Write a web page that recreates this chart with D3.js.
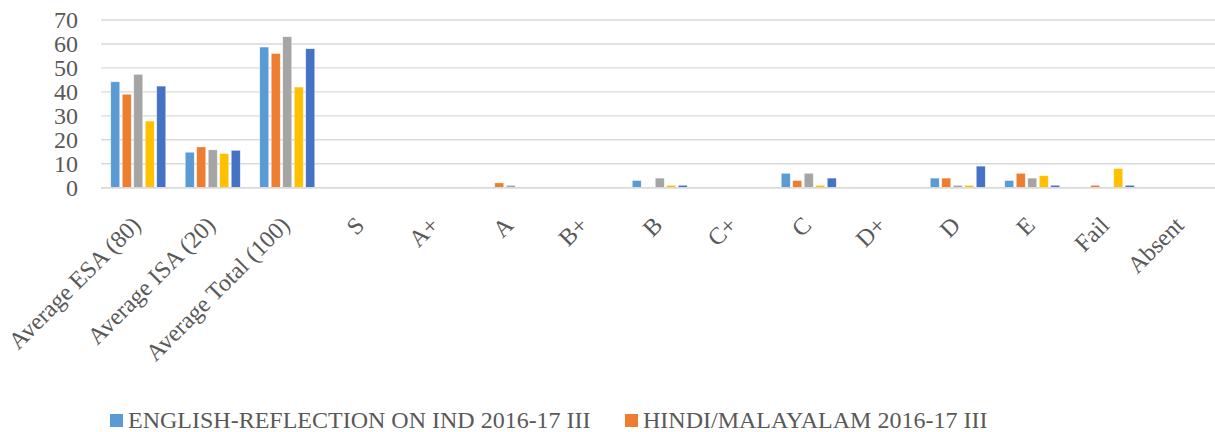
<!DOCTYPE html>
<html>
<head>
<meta charset="utf-8">
<script src="https://cdn.jsdelivr.net/npm/d3@7"></script>
<style>
  html, body { margin: 0; padding: 0; background: #ffffff; }
  svg { display: block; }
  text { font-family: "Liberation Serif", "Times New Roman", serif; }
</style>
</head>
<body>
<div id="chart"></div>
<script>
// ---- data ----
const categories = ["Average ESA (80)", "Average ISA (20)", "Average Total (100)", "S", "A+", "A", "B+", "B", "C+", "C", "D+", "D", "E", "Fail", "Absent"];
// only the first two legend entries are visible in the reference
const legendNames = ["ENGLISH-REFLECTION ON IND 2016-17 III", "HINDI/MALAYALAM 2016-17 III"];
const series1 = [44.2, 14.8, 58.7, 0, 0, 0, 0, 3, 0, 6, 0, 4, 3, 0, 0];
const series2 = [39, 17, 56, 0, 0, 2, 0, 0, 0, 3, 0, 4, 6, 1, 0];
const series3 = [47.3, 15.8, 63, 0, 0, 1, 0, 4, 0, 6, 0, 1, 4, 0, 0];
const series4 = [27.8, 14.2, 42, 0, 0, 0, 0, 1, 0, 1, 0, 1, 5, 8, 0];
const series5 = [42.4, 15.6, 58, 0, 0, 0, 0, 1, 0, 4, 0, 9, 1, 1, 0];
const yTicks = [0, 10, 20, 30, 40, 50, 60, 70];
const colors = ["#5B9BD5", "#ED7D31", "#A5A5A5", "#FFC000", "#4472C4"];

const allSeries = [series1, series2, series3, series4, series5];

// ---- layout ----
const W = 1215, H = 432;
const plotLeft = 101, plotRight = 1218.5, plotTop = 20, plotBottom = 187.7;

const svg = d3.select("#chart").append("svg")
  .attr("width", W).attr("height", H);
svg.append("rect").attr("width", W).attr("height", H).attr("fill", "#fff");

const x = d3.scaleBand()
  .domain(categories)
  .range([plotLeft, plotRight])
  .paddingInner(0.262)
  .paddingOuter(0.131);

const xs = d3.scaleBand()
  .domain(d3.range(allSeries.length))
  .range([0, x.bandwidth()])
  .paddingInner(0.22)
  .paddingOuter(0);

const y = d3.scaleLinear().domain([0, 70]).range([plotBottom, plotTop]);

// gridlines
svg.append("g")
  .selectAll("line")
  .data(yTicks)
  .join("line")
  .attr("x1", plotLeft).attr("x2", W)
  .attr("y1", d => y(d)).attr("y2", d => y(d))
  .attr("stroke", "#d9d9d9")
  .attr("stroke-width", 1.4);

// y axis labels
const yAxis = d3.axisLeft(y).tickValues(yTicks).tickSize(0).tickPadding(23);
const gy = svg.append("g").attr("transform", `translate(${plotLeft},0)`).call(yAxis);
gy.select(".domain").remove();
gy.selectAll("text")
  .attr("font-family", "Liberation Serif")
  .attr("font-size", 24)
  .attr("fill", "#595959");

// bars
const groups = svg.append("g")
  .selectAll("g")
  .data(categories)
  .join("g")
  .attr("transform", d => `translate(${x(d)},0)`);

groups.selectAll("rect")
  .data((c, ci) => allSeries.map((s, si) => ({ si, v: s[ci] })))
  .join("rect")
  .attr("x", d => xs(d.si))
  .attr("width", xs.bandwidth())
  .attr("y", d => y(d.v))
  .attr("height", d => y(0) - y(d.v))
  .attr("fill", d => colors[d.si])
  .attr("stroke", "#ffffff")
  .attr("stroke-width", 0.6)
  .attr("stroke-opacity", d => d.v > 0 ? 0.6 : 0);

// x axis
const xAxis = d3.axisBottom(x).tickSize(0);
const gx = svg.append("g").attr("transform", `translate(0,${plotBottom})`).call(xAxis);
gx.select(".domain").attr("stroke", "#d9d9d9").attr("stroke-width", 1.4)
  .attr("d", `M${plotLeft},0H${W}`);
gx.selectAll("text")
  .attr("font-family", "Liberation Serif")
  .attr("font-size", 24)
  .attr("fill", "#595959")
  .attr("x", 0).attr("y", 0).attr("dy", 0)
  .attr("text-anchor", "end")
  .attr("transform", "translate(4,39) rotate(-45)");

// legend
const legendPos = [
  { mx: 110, tx: 128, y: 428 },
  { mx: 625, tx: 643, y: 428 }
];
const lg = svg.append("g");
legendNames.forEach((name, i) => {
  const p = legendPos[i];
  lg.append("rect")
    .attr("x", p.mx).attr("y", p.y - 14)
    .attr("width", 13).attr("height", 13)
    .attr("fill", colors[i]);
  lg.append("text")
    .attr("x", p.tx).attr("y", p.y)
    .attr("font-size", 24)
    .attr("fill", "#595959")
    .text(name);
});
</script>
</body>
</html>
